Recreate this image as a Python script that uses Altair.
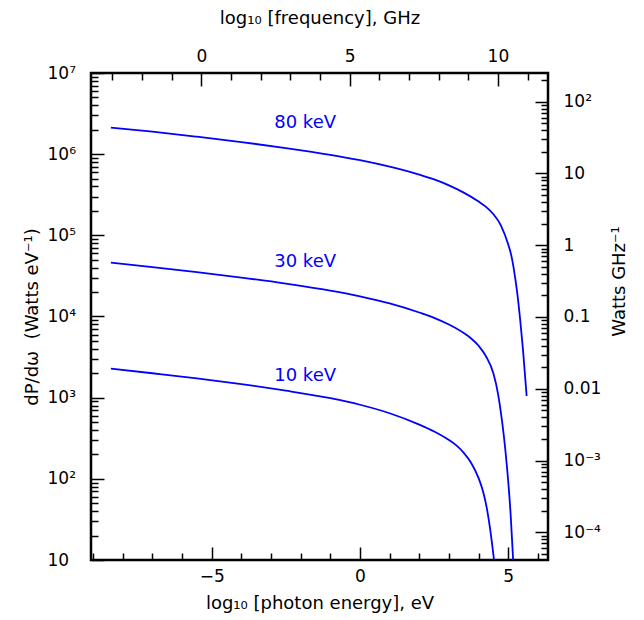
import altair as alt
import pandas as pd

# ---- data (x = log10 photon energy [eV], y = dP/domega [W/eV]) ----
series_names = ["80 keV", "30 keV", "10 keV"]
energy_80 = [-8.4, -7.0, -5.5, -4.0, -2.5, -1.0, 0.0, 1.0, 2.0, 2.5, 3.0, 3.5, 4.0, 4.25,
             4.5, 4.75, 5.0, 5.1, 5.2, 5.3, 5.4, 5.5, 5.62]
power_80 = [2.12e6, 1.89e6, 1.64e6, 1.41e6, 1.19e6, 9.82e5, 8.43e5, 7.01e5, 5.60e5, 4.88e5,
            4.13e5, 3.36e5, 2.61e5, 2.24e5, 1.82e5, 1.33e5, 7.69e4, 5.70e4, 3.60e4, 1.98e4,
            9.25e3, 3.77e3, 1.05e3]
energy_30 = [-8.4, -7.0, -5.5, -4.0, -2.5, -1.0, 0.0, 1.0, 2.0, 2.5, 3.0, 3.5, 3.75, 4.0,
             4.25, 4.5, 4.65, 4.8, 4.9, 5.0, 5.08, 5.165]
power_30 = [4.60e4, 4.07e4, 3.53e4, 3.02e4, 2.54e4, 2.08e4, 1.77e4, 1.45e4, 1.12e4, 9.64e3,
            7.96e3, 6.25e3, 5.36e3, 4.36e3, 3.23e3, 1.98e3, 1.14e3, 481, 230, 91.6, 36.5, 10.0]
energy_10 = [-8.4, -7.0, -5.5, -4.0, -2.5, -1.0, 0.0, 1.0, 2.0, 2.5, 3.0, 3.25, 3.5, 3.75,
             4.0, 4.15, 4.27, 4.4, 4.52]
power_10 = [2.28e3, 2.00e3, 1.73e3, 1.47e3, 1.22e3, 984, 818, 643, 466, 383, 301, 258,
            209, 157, 102, 69.7, 44.8, 22.5, 10.0]

label_text = ["80 keV", "30 keV", "10 keV"]
label_x = [-1.85, -1.85, -1.85]
label_y = [2.42e6, 4.70e4, 1.85e3]

# ---- axes ----
x_domain = [-9.07, 6.34]
freq_shift = 5.35  # log10 frequency [GHz] = log10 energy [eV] + shift
top_domain = [x_domain[0] + freq_shift, x_domain[1] + freq_shift]
y_domain = [10, 1e7]
right_domain = [4.11e-5, 251]

bottom_major = [-5, 0, 5]
bottom_minor = [v for v in range(-9, 7) if v not in bottom_major]
top_major = [0, 5, 10]
top_minor = [v for v in range(-3, 12) if v not in top_major]

left_major = [10, 1e2, 1e3, 1e4, 1e5, 1e6, 1e7]
left_labels = ["10", "10²", "10³", "10⁴", "10⁵", "10⁶", "10⁷"]
left_minor = [k * 10 ** d for d in range(1, 7) for k in range(2, 10)]

right_major = [1e-4, 1e-3, 1e-2, 1e-1, 1, 10, 100]
right_labels = ["10⁻⁴", "10⁻³", "0.01", "0.1", "1", "10", "10²"]
right_minor = [k * 10.0 ** d for d in range(-5, 3) for k in range(2, 10)
               if right_domain[0] <= k * 10.0 ** d <= right_domain[1]]

FONT = "DejaVu Sans"
BLUE = "#0000ff"
MAJ = 13
MIN = 7


def label_expr(values, labels):
    vals = ",".join(repr(float(v)) for v in values)
    labs = ",".join("'" + l + "'" for l in labels)
    return f"[{labs}][indexof([{vals}], datum.value)]"


rows = []
for name, xs, ys in [("80 keV", energy_80, power_80), ("30 keV", energy_30, power_30),
                     ("10 keV", energy_10, power_10)]:
    for a, b in zip(xs, ys):
        rows.append({"series": name, "x": a, "y": b})
curves = pd.DataFrame(rows)
labels_df = pd.DataFrame({"text": label_text, "x": label_x, "y": label_y})

xs_bottom = alt.Scale(domain=x_domain, nice=False, zero=False)
ys_left = alt.Scale(type="log", domain=y_domain, nice=False)
xs_top = alt.Scale(domain=top_domain, nice=False, zero=False)
ys_right = alt.Scale(type="log", domain=right_domain, nice=False)

lines = alt.Chart(curves).mark_line(color=BLUE, strokeWidth=1.8, clip=True,
                                     interpolate="monotone").encode(
    x=alt.X("x:Q", scale=xs_bottom,
            axis=alt.Axis(orient="bottom", values=bottom_major, offset=-MAJ, tickSize=MAJ,
                          labelPadding=8, title="log₁₀ [photon energy], eV",
                          titlePadding=10)),
    y=alt.Y("y:Q", scale=ys_left,
            axis=alt.Axis(orient="left", values=left_major,
                          labelExpr=label_expr(left_major, left_labels),
                          offset=-MAJ, tickSize=MAJ, labelPadding=44, labelAlign="left",
                          title="dP/dω\u00a0 (Watts eV⁻¹)", titlePadding=6)),
    detail="series:N",
)

frame_df = pd.DataFrame({"x": x_domain, "y": y_domain, "xt": top_domain, "yr": right_domain})

minor_bl = alt.Chart(frame_df).mark_point(opacity=0).encode(
    x=alt.X("x:Q", scale=xs_bottom,
            axis=alt.Axis(orient="bottom", values=bottom_minor, labels=False,
                          offset=-MIN, tickSize=MIN, title=None)),
    y=alt.Y("y:Q", scale=ys_left,
            axis=alt.Axis(orient="left", values=left_minor, labels=False,
                          offset=-MIN, tickSize=MIN, title=None)),
)

major_tr = alt.Chart(frame_df).mark_point(opacity=0).encode(
    x=alt.X("xt:Q", scale=xs_top,
            axis=alt.Axis(orient="top", values=top_major, offset=-MAJ, tickSize=MAJ,
                          labelPadding=8, title="log₁₀ [frequency], GHz",
                          titlePadding=20)),
    y=alt.Y("yr:Q", scale=ys_right,
            axis=alt.Axis(orient="right", values=right_major,
                          labelExpr=label_expr(right_major, right_labels),
                          offset=-MAJ, tickSize=MAJ, labelPadding=15, labelAlign="left",
                          title="Watts GHz⁻¹", titleAngle=270, titleX=84, titleY=208,
                          titleAlign="center", titleBaseline="middle")),
)

minor_tr = alt.Chart(frame_df).mark_point(opacity=0).encode(
    x=alt.X("xt:Q", scale=xs_top,
            axis=alt.Axis(orient="top", values=top_minor, labels=False,
                          offset=-MIN, tickSize=MIN, title=None)),
    y=alt.Y("yr:Q", scale=ys_right,
            axis=alt.Axis(orient="right", values=right_minor, labels=False,
                          offset=-MIN, tickSize=MIN, title=None)),
)

texts = alt.Chart(labels_df).mark_text(color=BLUE, font=FONT, fontSize=18,
                                       align="center", baseline="middle").encode(
    x=alt.X("x:Q", scale=xs_bottom, axis=None),
    y=alt.Y("y:Q", scale=ys_left, axis=None),
    text="text:N",
)

chart = alt.layer(lines, texts, minor_bl, major_tr, minor_tr).resolve_scale(
    x="independent", y="independent"
).properties(
    width=457, height=487,
    autosize=alt.AutoSizeParams(type="none"),
    padding={"left": 83, "top": 65, "right": 88, "bottom": 60},
).configure_axis(
    labelFont=FONT, titleFont=FONT, labelFontSize=17, titleFontSize=18,
    titleFontWeight="normal", labelColor="black", titleColor="black",
    tickColor="black", tickWidth=1.5, grid=False, domain=False,
).configure_view(stroke="black", strokeWidth=2.5)

chart.save("out.html", embed_options={"renderer": "svg", "actions": False})
